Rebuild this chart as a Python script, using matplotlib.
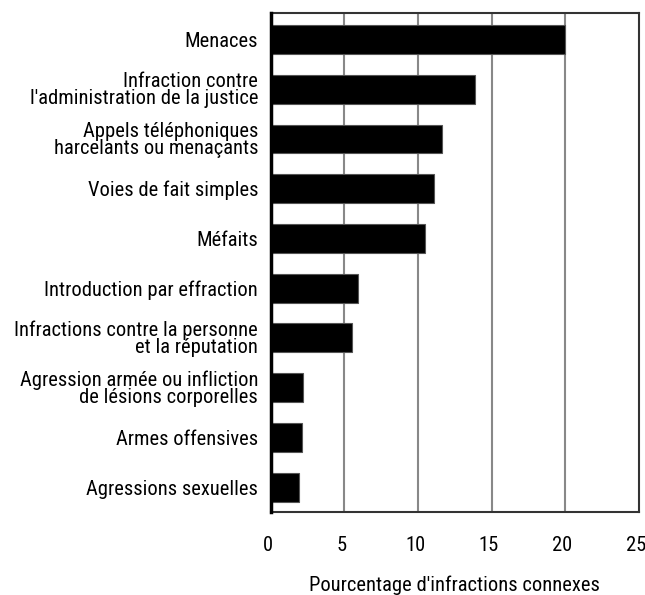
import matplotlib
matplotlib.use("Agg")
import matplotlib.pyplot as plt
from matplotlib import font_manager
from matplotlib.transforms import ScaledTranslation

names = {f.name for f in font_manager.fontManager.ttflist}
fam = [n for n in ["Roboto Condensed", "Liberation Sans Narrow", "DejaVu Sans Condensed", "Liberation Sans"] if n in names]
plt.rcParams['font.family'] = fam + ['DejaVu Sans']

categories = [
    "Menaces",
    "Infraction contre\nl'administration de la justice",
    "Appels téléphoniques\nharcelants ou menaçants",
    "Voies de fait simples",
    "Méfaits",
    "Introduction par effraction",
    "Infractions contre la personne\net la réputation",
    "Agression armée ou infliction\nde lésions corporelles",
    "Armes offensives",
    "Agressions sexuelles",
]
values = [20.0, 13.9, 11.6, 11.1, 10.5, 5.9, 5.5, 2.2, 2.1, 1.9]
xticks = [0, 5, 10, 15, 20, 25]
xlabel = "Pourcentage d'infractions connexes"

fig = plt.figure(figsize=(6.45, 5.95), dpi=100)
ax = fig.add_axes([0.4197, 0.1395, 0.9907 - 0.4197, 0.978 - 0.1395])

y = list(range(len(categories)))
ax.barh(y, values, height=0.58, color="black", edgecolor="#555555", linewidth=0.8, zorder=3)
ax.set_ylim(len(categories) - 0.5, -0.53)
ax.set_xlim(0, 25)
ax.set_xticks(xticks)
ax.set_yticks(y)
ax.set_yticklabels(categories, fontsize=14.8, linespacing=0.88)
ax.tick_params(axis="both", length=0, labelsize=14.8)
ax.tick_params(axis="x", pad=17.5)
ax.tick_params(axis="y", pad=9)
off = ScaledTranslation(-3 / 100, 0, fig.dpi_scale_trans)
for lab in ax.get_xticklabels():
    lab.set_transform(lab.get_transform() + off)
for xv in xticks[1:-1]:
    ax.axvline(xv, color="#888888", linewidth=1.5, zorder=1)
for s in ["top", "right", "bottom"]:
    ax.spines[s].set_color("#333333")
    ax.spines[s].set_linewidth(1.5)
ax.spines["left"].set_color("black")
ax.spines["left"].set_linewidth(2.5)
ax.spines["left"].set_zorder(4)
ax.set_xlabel(xlabel, fontsize=14.8, labelpad=14.5)

fig.savefig("out.png", dpi=100)
